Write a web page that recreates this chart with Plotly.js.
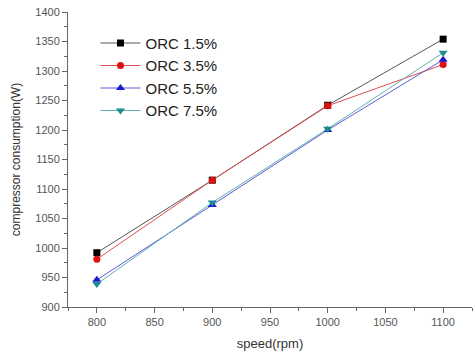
<!DOCTYPE html>
<html>
<head>
<meta charset="utf-8">
<script src="https://cdn.plot.ly/plotly-3.0.1.min.js"></script>
<style>html,body{margin:0;padding:0;background:#fff}#chart{width:475px;height:354px}</style>
</head>
<body>
<div id="chart"></div>
<script>
const speed = [800, 900, 1000, 1100];
const orc15 = [992, 1115, 1242, 1354];
const orc35 = [981, 1115, 1241, 1311];
const orc55 = [946, 1073, 1200, 1319];
const orc75 = [939, 1077, 1202, 1331];
const seriesNames = ['ORC 1.5%', 'ORC 3.5%', 'ORC 5.5%', 'ORC 7.5%'];

const styles = [
  {color: '#000000', line: '#555555', symbol: 'square', size: 7},
  {color: '#e01010', line: '#e05050', symbol: 'circle', size: 7},
  {color: '#1a1ad0', line: '#5a5ad8', symbol: 'triangle-up', size: 8},
  {color: '#1e8c8c', line: '#60b0b0', symbol: 'triangle-down', size: 8}
];
const ys = [orc15, orc35, orc55, orc75];

const data = ys.map((y, i) => ({
  x: speed, y: y, name: seriesNames[i], type: 'scatter', mode: 'lines+markers',
  line: {color: styles[i].line, width: 1},
  marker: {color: styles[i].color, symbol: styles[i].symbol, size: styles[i].size}
}));

const tickFont = {family: 'Liberation Sans, Arial, sans-serif', size: 11, color: '#555'};
const layout = {
  width: 475, height: 354,
  margin: {l: 68, r: 3, t: 12, b: 47},
  paper_bgcolor: '#fff', plot_bgcolor: '#fff',
  showlegend: true,
  legend: {x: 0.068, y: 0.95, xanchor: 'left', yanchor: 'top', bgcolor: 'rgba(0,0,0,0)',
    font: {family: 'Liberation Sans, Arial, sans-serif', size: 15, color: '#222'},
    tracegroupgap: 0, itemwidth: 40},
  xaxis: {
    range: [775, 1125], tickvals: [800, 850, 900, 950, 1000, 1050, 1100],
    showgrid: false, zeroline: false, showline: true, linecolor: '#666', linewidth: 1,
    ticks: 'outside', ticklen: 5, tickcolor: '#666',
    minor: {dtick: 25, tick0: 775, ticks: 'outside', ticklen: 3, tickcolor: '#666', showgrid: false},
    tickfont: tickFont,
    title: {text: 'speed(rpm)', font: {family: 'Liberation Sans, Arial, sans-serif', size: 13, color: '#333'}, standoff: 11}
  },
  yaxis: {
    range: [900, 1400], dtick: 50,
    showgrid: false, zeroline: false, showline: true, linecolor: '#666', linewidth: 1,
    ticks: 'outside', ticklen: 5, tickcolor: '#666',
    minor: {dtick: 25, ticks: 'outside', ticklen: 3, tickcolor: '#666', showgrid: false},
    tickfont: tickFont,
    title: {text: 'compressor consumption(W)', font: {family: 'Liberation Sans, Arial, sans-serif', size: 12, color: '#333'}, standoff: 12}
  }
};
Plotly.newPlot('chart', data, layout, {displayModeBar: false, staticPlot: true});
</script>
</body>
</html>
